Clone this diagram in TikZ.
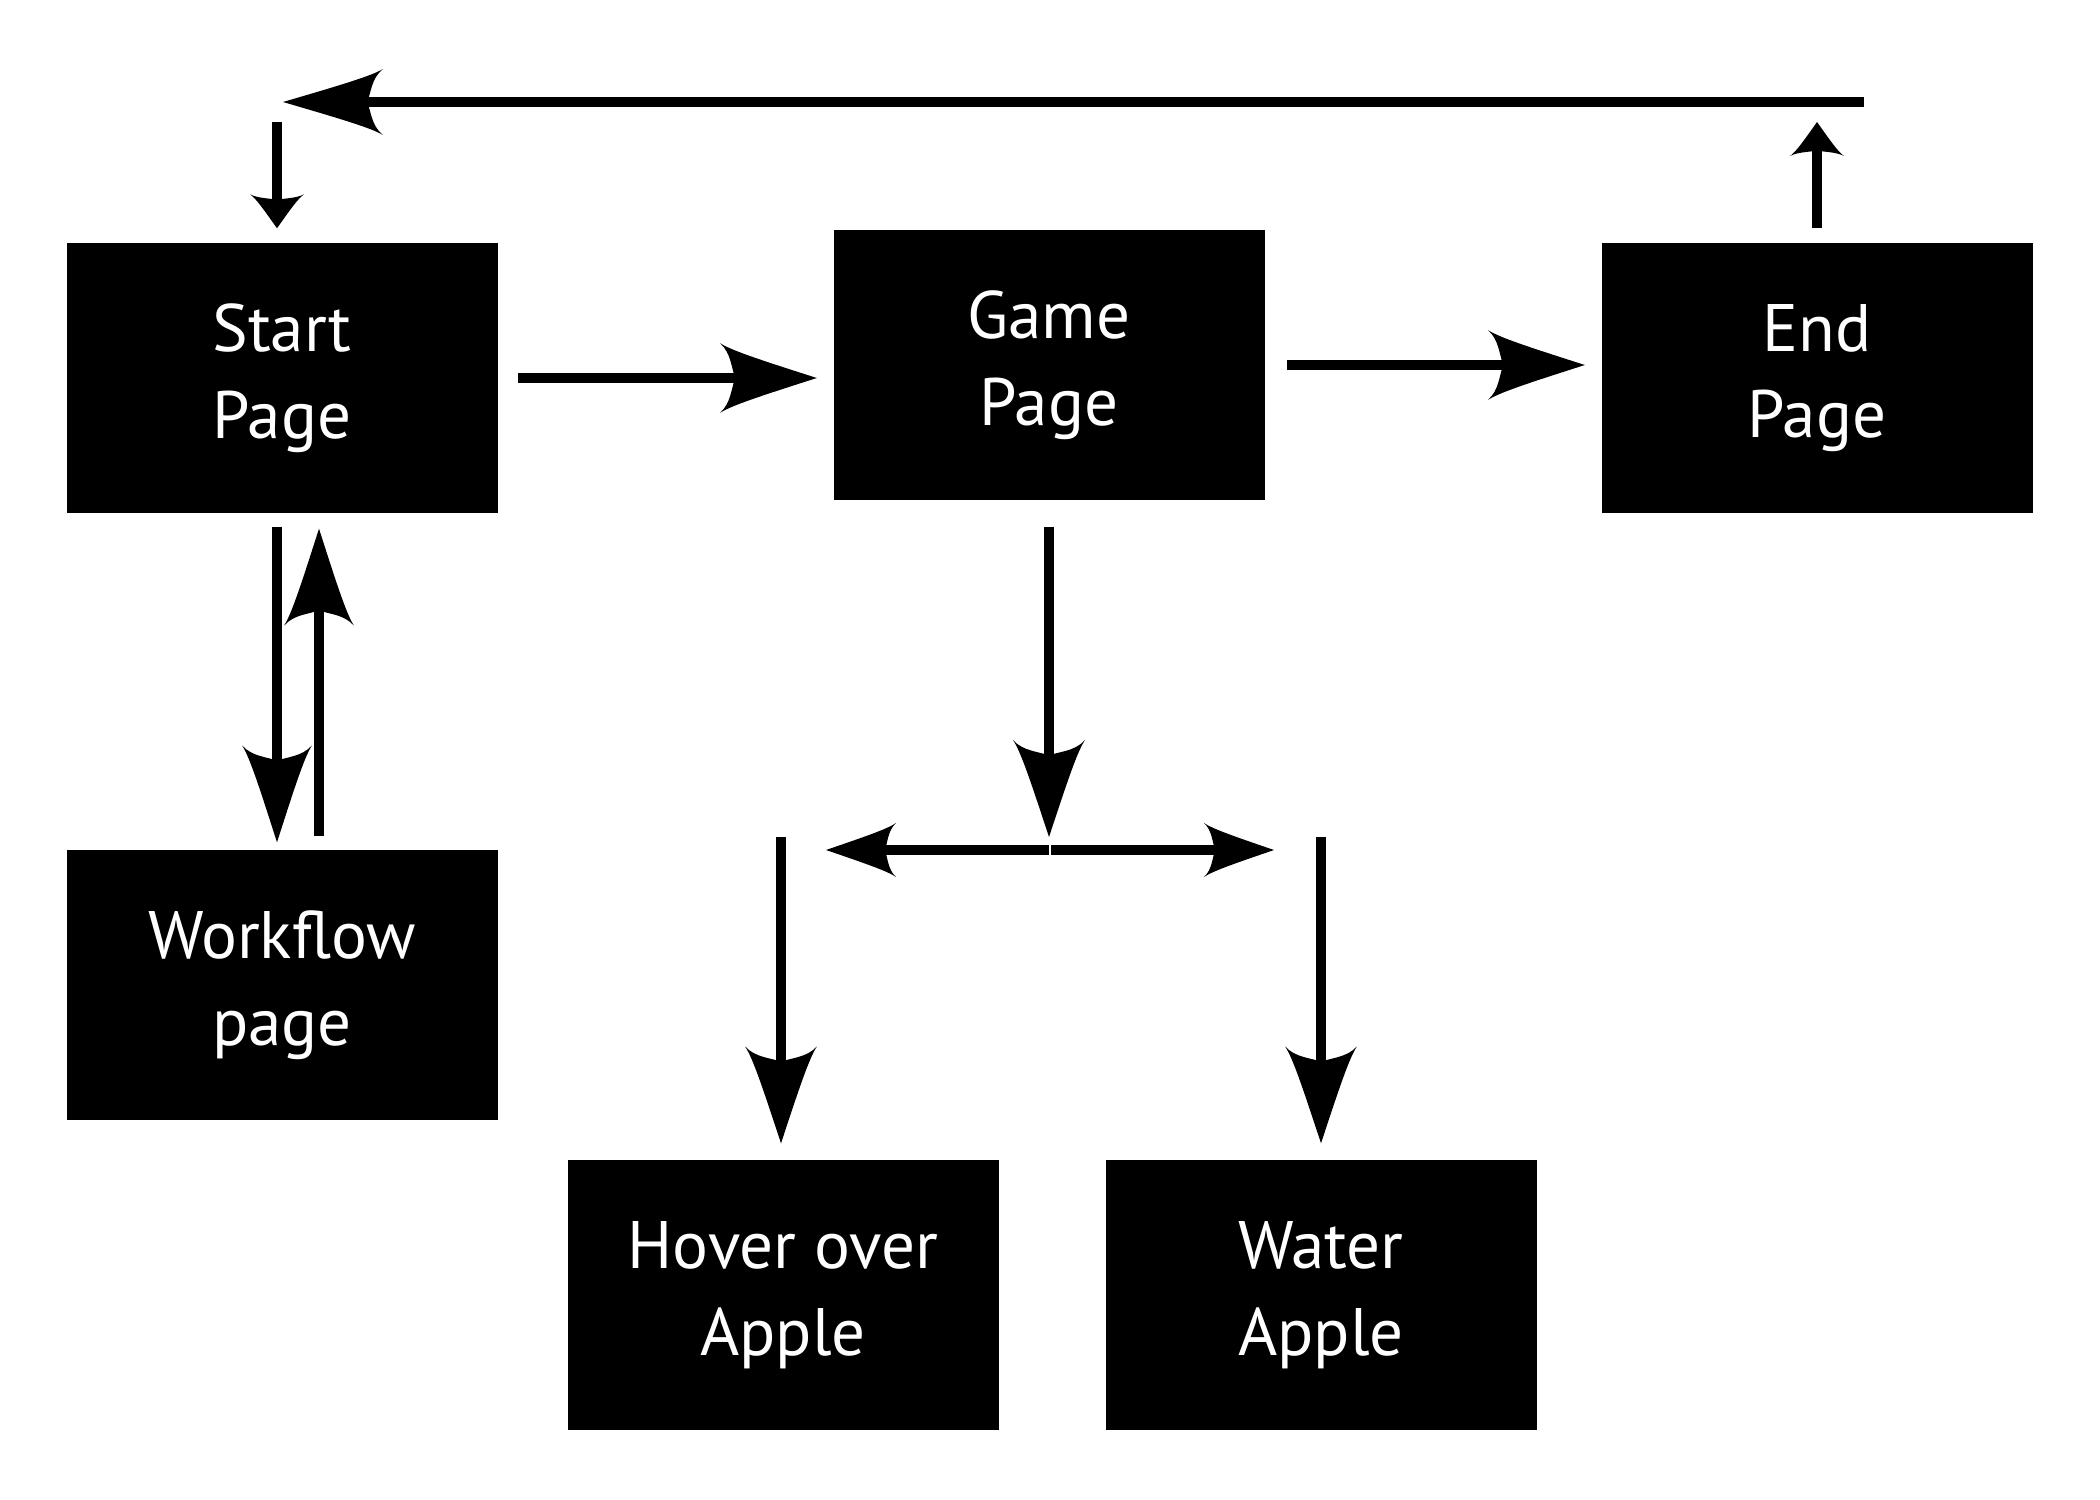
\documentclass[tikz,border=0pt]{standalone}
\usepackage{fontspec}
\setmainfont{PT Sans}
\tikzset{
  page/.style={fill=black, text=white, minimum width=43.1mm, minimum height=27mm,
    inner sep=0pt, align=center, font=\fontsize{19.1}{24.6}\selectfont},
  link/.style={line width=3pt},
  % arrow head with its tip at the pic origin: length, half width
  pics/head/.style n args={2}{code={
    \fill (0,0) .. controls ({-0.54*#1},{0.48*#2}) and ({-0.88*#1},{0.78*#2}) .. ({-#1},{#2})
      .. controls ({-0.88*#1},{0.72*#2}) and ({-0.88*#1},{0.24*#2}) .. ({-0.84*#1},0)
      .. controls ({-0.88*#1},{-0.24*#2}) and ({-0.88*#1},{-0.72*#2}) .. ({-#1},{-#2})
      .. controls ({-0.88*#1},{-0.78*#2}) and ({-0.54*#1},{-0.48*#2}) .. (0,0) -- cycle;
  }}
}
\begin{document}
\begin{tikzpicture}[x=0.1mm, y=-0.1mm]
   \useasboundingbox (0,0) rectangle (2100,1500);
   \node[page] (startpage) at (282,378) {Start\\Page};
   \node[page] (gamepage) at (1049,365) {Game\\Page};
   \node[page] (endpage) at (1817,378) {End\\Page};
   \node[page] (workflow) at (282,985) {Workflow\\page};
   \node[page] (hover) at (783,1295) {Hover over\\Apple};
   \node[page] (water) at (1321,1295) {Water\\Apple};
   \coordinate (loopR) at (1864,102);
   \coordinate (loopL) at (283,102);
   \coordinate (split) at (1049,850);
   \coordinate (branchL) at (826,850);
   \coordinate (branchR) at (1274,850);
   \coordinate (dropL) at (781,837);
   \coordinate (dropR) at (1321,837);
   % tips of the arrows
   \path (startpage.east -| gamepage.west) ++(-16,0) coordinate (tipGame);
   \path (gamepage.east -| endpage.west) ++(-16,0) coordinate (tipEnd);
   \path (startpage.south) ++(-5,0) coordinate (outStart);
   \path (outStart |- workflow.north) ++(0,-7) coordinate (tipWork);
   \path (workflow.north) ++(37,0) coordinate (outWork);
   \path (outWork |- startpage.south) ++(0,15) coordinate (tipStart);
   \path (split) ++(0,-13) coordinate (tipSplit);
   \path (dropL |- hover.north) ++(0,-16) coordinate (tipHover);
   \path (dropR |- water.north) ++(0,-16) coordinate (tipWater);
   \path (endpage.north |- loopR) ++(0,20) coordinate (tipLoop);
   \path (startpage.north) ++(-5,0) coordinate (inStart);
   \path (inStart |- loopL) ++(0,20) coordinate (topStart);
   \path (inStart) ++(0,-14) coordinate (tipTop);
   % connectors
   \draw[link, shorten <=2mm, shorten >=8.1mm] (startpage.east) -- (tipGame);
   \pic at (tipGame) {head={97}{35}};
   \draw[link, shorten <=2.2mm, shorten >=8.1mm] (gamepage.east) -- (tipEnd);
   \pic at (tipEnd) {head={97}{35}};
   \draw[link, shorten <=1.3mm, shorten >=8.1mm] (outStart) -- (tipWork);
   \pic[rotate=-90] at (tipWork) {head={97}{35}};
   \draw[link, shorten <=1.3mm, shorten >=8.1mm] (outWork) -- (tipStart);
   \pic[rotate=90] at (tipStart) {head={97}{35}};
   \draw[link, shorten <=2.6mm, shorten >=8.1mm] (gamepage.south) -- (tipSplit);
   \pic[rotate=-90] at (tipSplit) {head={97}{36}};
   \draw[link, shorten >=5.8mm] (split) -- (branchL);
   \pic[rotate=180] at (branchL) {head={70}{27}};
   \draw[link, shorten <=0.15mm, shorten >=5.8mm] (split) -- (branchR);
   \pic at (branchR) {head={70}{27}};
   \draw[link, shorten >=8.1mm] (dropL) -- (tipHover);
   \pic[rotate=-90] at (tipHover) {head={97}{36}};
   \draw[link, shorten >=8.1mm] (dropR) -- (tipWater);
   \pic[rotate=-90] at (tipWater) {head={97}{36}};
   \draw[link, shorten >=8.1mm] (loopR) -- (loopL);
   \pic[rotate=180] at (loopL) {head={100}{33}};
   \draw[link, line width=2.6pt, shorten <=1.4mm, shorten >=2.8mm] (endpage.north) -- (tipLoop);
   \pic[rotate=90] at (tipLoop) {head={34}{27}};
   \draw[link, line width=2.6pt, shorten >=2.8mm] (topStart) -- (tipTop);
   \pic[rotate=-90] at (tipTop) {head={34}{27}};
\end{tikzpicture}
\end{document}
